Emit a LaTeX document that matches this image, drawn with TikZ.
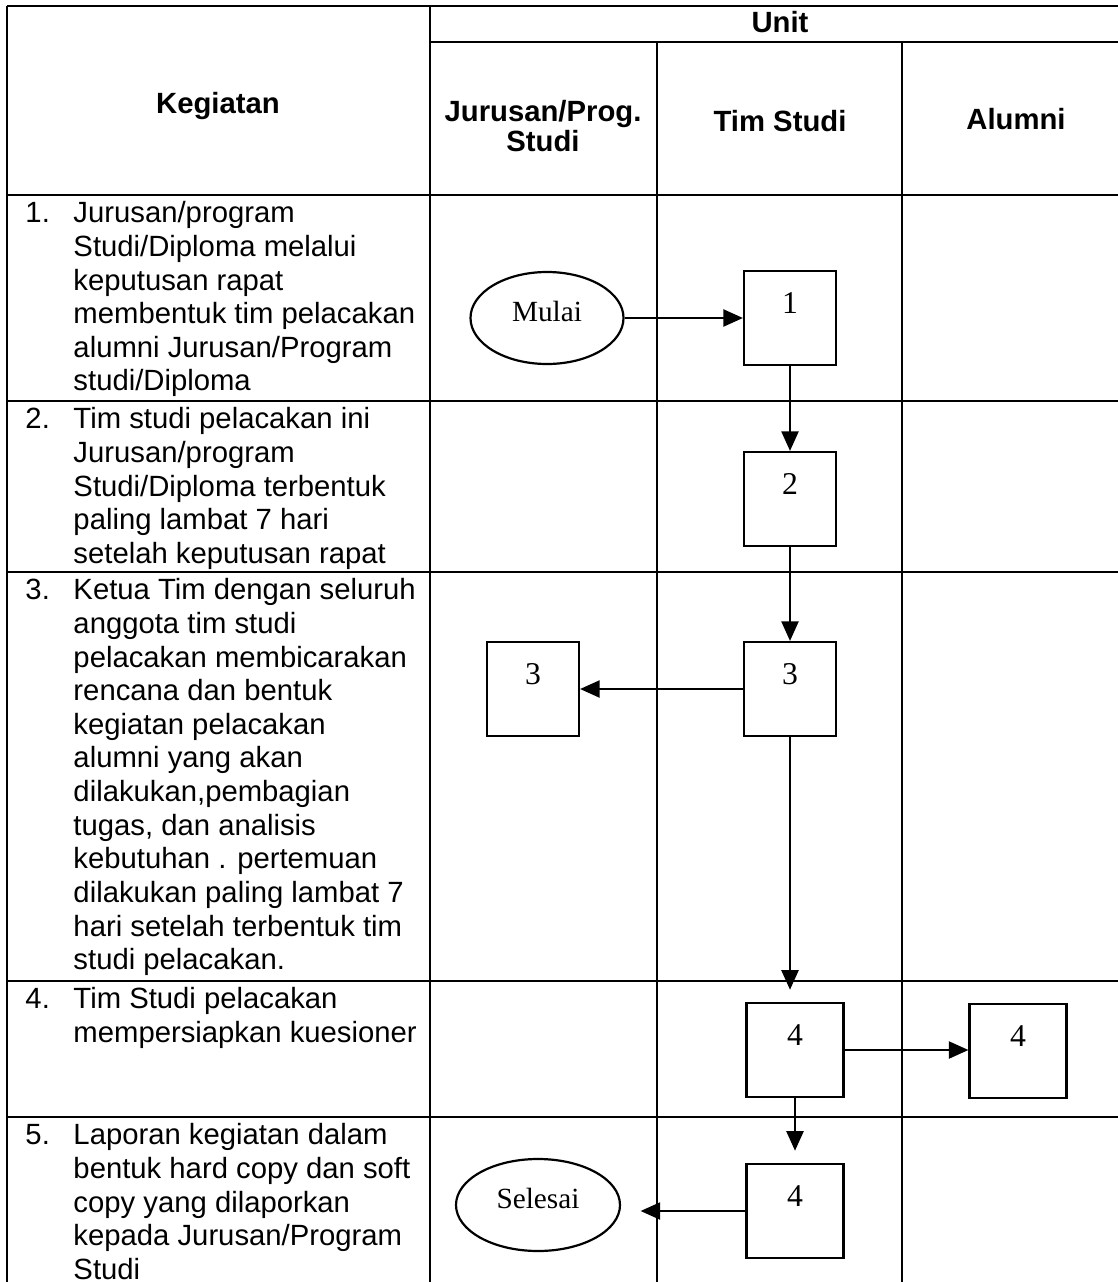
\documentclass[tikz,border=0pt]{standalone}
\usepackage{fontspec}
\setmainfont{Liberation Serif}
\newfontfamily\arial{Liberation Sans}
\usetikzlibrary{shapes.geometric,arrows.meta,positioning}
\newlength{\pxu}
\setlength{\pxu}{0.41pt}
\tikzset{
  garis/.style={line width=0.6pt},
  judul/.style={font=\arial\bfseries\fontsize{12}{13.8}\selectfont, inner sep=0pt, anchor=base},
  isi/.style={font=\arial\fontsize{12}{13.8}\selectfont, inner sep=0pt, align=left, anchor=north west},
  nomor/.style={font=\arial\fontsize{12}{13.8}\selectfont, inner sep=0pt, anchor=base west},
  kotak/.style={
    draw=black,
    line width=0.9pt,
    minimum width=92\pxu,
    inner sep=0pt,
    text height=42\pxu,
    text depth=52\pxu,
    font=\fontsize{13}{15}\selectfont
  },
  ujung/.style={ellipse, draw=black, line width=0.9pt, minimum height=92\pxu, inner sep=0pt,
    text height=8pt, text depth=5pt, font=\fontsize{12}{14}\selectfont},
  panah/.style={-{Triangle[length=8pt,width=7pt]}, line width=0.8pt},
}
\newcommand{\KegRow}[4]{%
  \node[nomor] (#1n) at (25,#2) {#3};
  \node[isi] (#1t) at (73,#2-21) {#4};
}

\begin{document}
\begin{tikzpicture}[x=0.41pt, y=-0.41pt]
  \useasboundingbox (0,0) rectangle (1118,1282);
  \clip (0,0) rectangle (1118,1282);
  % tabel
  \draw[garis] (7,6) -- (1130,6);
  \draw[garis] (430,42) -- (1130,42);
  \foreach \y in {195,401,572,981,1117}
    \draw[garis] (7,\y) -- (1130,\y);
  \foreach \x in {7,430,1130}
    \draw[garis] (\x,6) -- (\x,1290);
  \foreach \x in {657,902}
    \draw[garis] (\x,42) -- (\x,1290);

  % judul kolom
  \node[judul] (unit) at (780,33) {Unit};
  \node[judul] (kegiatan) at (218,114) {Kegiatan};
  \node[judul, anchor=center, align=center, font=\arial\bfseries\fontsize{12}{12}\selectfont]
    (jurusan) at (543,126) {Jurusan/Prog.\\Studi};
  \node[judul] (timstudi) at (780,132) {Tim Studi};
  \node[judul] (alumni) at (1016,130) {Alumni};

  % kegiatan
  \KegRow{r1}{222}{1.}{Jurusan/program\\Studi/Diploma melalui\\keputusan rapat\\membentuk tim pelacakan\\alumni Jurusan/Program\\studi/Diploma}
  \KegRow{r2}{428}{2.}{Tim studi pelacakan ini\\Jurusan/program\\Studi/Diploma terbentuk\\paling lambat 7 hari\\setelah keputusan rapat}
  \KegRow{r3}{599}{3.}{Ketua Tim dengan seluruh\\anggota tim studi\\pelacakan membicarakan\\rencana dan bentuk\\kegiatan pelacakan\\alumni yang akan\\dilakukan,pembagian\\tugas, dan analisis\\kebutuhan . pertemuan\\dilakukan paling lambat 7\\hari setelah terbentuk tim\\studi pelacakan.}
  \KegRow{r4}{1008}{4.}{Tim Studi pelacakan\\mempersiapkan kuesioner}
  \KegRow{r5}{1144}{5.}{Laporan kegiatan dalam\\bentuk hard copy dan soft\\copy yang dilaporkan\\kepada Jurusan/Program\\Studi}

  % alur
  \node[ujung, minimum width=153\pxu] (mulai) at (547,318) {Mulai};
  \node[kotak] (k1) at (790,318) {1};
  \node[kotak] (k2) at (790,499) {2};
  \node[kotak] (k3) at (790,689) {3};
  \node[kotak] (k3j) at (533,689) {3};
  \node[kotak, minimum width=97\pxu] (k4) at (795,1050) {4};
  \node[kotak, minimum width=97\pxu] (k4a) at (1018,1051) {4};
  \node[kotak, minimum width=97\pxu] (k4b) at (795,1211) {4};
  \node[ujung, minimum width=164\pxu] (selesai) at (538,1205) {Selesai};

  \draw[panah] (mulai.east) -- (mulai.east -| k1.west);
  \draw[panah] (k1) -- (k2);
  \draw[panah] (k2) -- (k3);
  \draw[panah] (k3.west) -- (k3j.east);
  \draw[panah, shorten >=5pt] (k3.south) -- (k3.south |- k4.north);
  \draw[panah] (k4.east) -- (k4.east -| k4a.west);
  \draw[panah, shorten >=5pt] (k4.south) -- (k4b.north);
  \draw[panah, shorten >=8pt] (k4b.west) -- (k4b.west -| selesai.east);
\end{tikzpicture}
\end{document}
